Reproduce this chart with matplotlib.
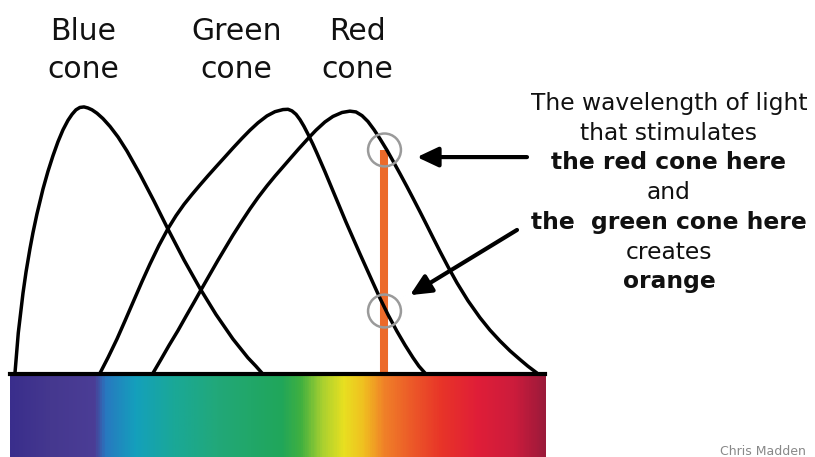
import numpy as np
import matplotlib
matplotlib.use("Agg")
import matplotlib.pyplot as plt
from matplotlib.colors import LinearSegmentedColormap

# cone sensitivity curves (wavelength nm, relative sensitivity)
blue_wl = [402.8, 404.65, 407.3, 409.0, 411.2, 412.9, 415.1, 418.5, 421.3, 424.1, 426.9, 429.7,
           432.5, 434.8, 437.0, 439.2, 441.5, 443.7, 446.0, 448.8, 452.1, 456.1, 460.6, 465.6,
           472.9, 480.7, 488.6, 497.6, 506.5, 515.5, 525.0, 533.4, 537.9, 541.3]
blue_s = [0.000, 0.152, 0.303, 0.383, 0.471, 0.532, 0.602, 0.697, 0.764, 0.823, 0.876, 0.921,
          0.957, 0.980, 0.997, 1.006, 1.008, 1.004, 0.997, 0.984, 0.964, 0.934, 0.894, 0.841,
          0.753, 0.652, 0.545, 0.428, 0.321, 0.222, 0.129, 0.058, 0.026, 0.000]

green_wl = [450.5, 455.0, 460.0, 464.5, 469.5, 474.0, 478.5, 483.5, 488.6, 493.1, 497.6, 502.0,
            506.5, 511.0, 515.5, 520.6, 525.0, 530.1, 534.6, 539.1, 544.1, 548.6, 553.1, 555.9,
            558.1, 560.4, 562.6, 564.8, 567.1, 569.9, 572.1, 576.6, 581.1, 588.4, 596.2, 603.0,
            607.5, 611.9, 617.0, 621.5, 626.0, 629.3, 632.7]
green_s = [0.000, 0.059, 0.129, 0.198, 0.276, 0.346, 0.413, 0.483, 0.547, 0.596, 0.639, 0.676,
           0.712, 0.747, 0.781, 0.819, 0.852, 0.889, 0.920, 0.948, 0.974, 0.990, 0.998, 0.999,
           0.993, 0.980, 0.960, 0.935, 0.905, 0.866, 0.833, 0.763, 0.690, 0.572, 0.452, 0.350,
           0.283, 0.222, 0.158, 0.106, 0.058, 0.026, 0.000]

red_wl = [480.2, 484.7, 489.2, 494.2, 498.7, 503.2, 507.7, 512.1, 516.6, 521.1, 525.0, 530.1,
          534.6, 539.1, 544.1, 548.6, 553.1, 557.6, 562.0, 567.1, 571.6, 576.6, 581.1, 586.2,
          590.6, 594.0, 597.4, 600.7, 604.1, 607.5, 611.4, 614.7, 618.7, 622.6, 626.0, 629.9,
          633.8, 637.2, 641.1, 645.6, 650.6, 656.8, 663.5, 669.1, 674.7, 680.4, 686.0, 690.4, 695.5]
red_s = [0.000, 0.052, 0.105, 0.161, 0.215, 0.268, 0.322, 0.374, 0.427, 0.478, 0.522, 0.576,
         0.622, 0.665, 0.709, 0.746, 0.781, 0.816, 0.850, 0.888, 0.920, 0.951, 0.972, 0.987,
         0.992, 0.989, 0.975, 0.953, 0.922, 0.887, 0.844, 0.804, 0.755, 0.706, 0.662, 0.611,
         0.559, 0.513, 0.461, 0.403, 0.342, 0.274, 0.210, 0.163, 0.122, 0.084, 0.051, 0.026, 0.000]

cone_names = ["Blue", "Green", "Red"]
cone_label_x = [441, 527, 595]

# visible spectrum strip
spec_wl = [400, 422, 447, 453, 470, 491, 517, 552, 563, 575, 587, 598, 610, 625, 642, 662, 683, 700]
spec_colors = ["#3a2e8c", "#45388f", "#4b3d96", "#2878c0", "#14a0bc", "#1aa898", "#22a878",
               "#20a65a", "#40b040", "#a8d030", "#e8e020", "#f0c020", "#f08028", "#ec5a28",
               "#e83428", "#e01e38", "#cc1c3c", "#9c1a3a"]

orange_wl = 610
red_at_orange = 0.845
green_at_orange = 0.235

note_lines = ["The wavelength of light", "that stimulates", "the red cone here", "and",
              "the  green cone here", "creates", "orange"]
note_bold = [False, False, True, False, True, False, True]

fig = plt.figure(figsize=(8.15, 4.57), dpi=100)
ax = fig.add_axes([0, 0, 1, 1])
ax.set_xlim(394.4, 851.4)
ax.set_ylim(-0.318, 1.413)
ax.axis("off")

# spectrum bar
pos = [(w - spec_wl[0]) / (spec_wl[-1] - spec_wl[0]) for w in spec_wl]
cmap = LinearSegmentedColormap.from_list("spec", list(zip(pos, spec_colors)))
grad = np.linspace(400, 700, 600).reshape(1, -1)
ax.imshow(grad, cmap=cmap, extent=(400, 700, -0.318, -0.014), aspect="auto", zorder=1)

# orange marker line
ax.vlines(orange_wl, 0, red_at_orange, color="#ec6a2a", lw=5.8, zorder=2)

for wl, s in [(blue_wl, blue_s), (green_wl, green_s), (red_wl, red_s)]:
    ax.plot(wl, s, color="black", lw=2.5, solid_joinstyle="round", solid_capstyle="round", zorder=3)

ax.plot([400, 700], [-0.004, -0.004], color="black", lw=3, zorder=4)

# circles where the line meets red and green
ax.scatter([orange_wl, orange_wl], [red_at_orange, green_at_orange], s=560,
           facecolors="none", edgecolors="#9a9a9a", linewidths=1.8, zorder=5)

# cone labels
for name, x in zip(cone_names, cone_label_x):
    ax.text(x, 1.261, name, ha="center", va="baseline", fontsize=21.5, color="#111111")
    ax.text(x, 1.117, "cone", ha="center", va="baseline", fontsize=21.5, color="#111111")

# explanation text
for i, (line, bold) in enumerate(zip(note_lines, note_bold)):
    ax.text(769.5, 0.996 - i * 0.1125, line, ha="center", va="baseline", fontsize=16.8,
            fontweight="bold" if bold else "normal", color="#111111")

arrow = dict(arrowstyle="-|>,head_length=0.85,head_width=0.4", color="black", lw=3,
             mutation_scale=15, shrinkA=0, shrinkB=0)
ax.annotate("", xy=(628.2, 0.818), xytext=(689.9, 0.818), arrowprops=arrow)
ax.annotate("", xy=(624.3, 0.295), xytext=(684.3, 0.542), arrowprops=arrow)

ax.text(822, -0.298, "Chris Madden", ha="center", va="center", fontsize=9, color="#888888")

plt.savefig("out.png", dpi=100)
plt.close()
